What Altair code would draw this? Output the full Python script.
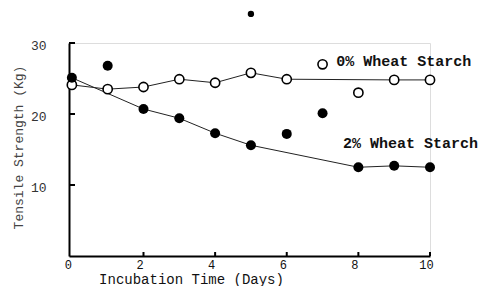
import altair as alt
import pandas as pd

days = [0, 1, 2, 3, 4, 5, 6, 7, 8, 9, 10]
open_vals = [24.1, 23.5, 23.8, 24.9, 24.4, 25.8, 24.9, 27.0, 23.0, 24.8, 24.8]
filled_vals = [25.1, 26.8, 20.7, 19.4, 17.3, 15.6, 17.2, 20.1, 12.5, 12.7, 12.5]
open_on_line = [True, True, True, True, True, True, True, False, False, True, True]
filled_on_line = [True, False, True, True, True, True, False, False, True, True, True]
stray_day = [5]
stray_val = [34.1]
label_text = ["0% Wheat Starch", "2% Wheat Starch"]
label_day = [7.38, 7.57]
label_val = [27.5, 15.9]
y_ticks = [10, 20, 30]
x_ticks = [2, 4, 6, 8, 10]

FONT = "Liberation Mono, DejaVu Sans Mono, Courier New, monospace"

df_open = pd.DataFrame({"day": days, "val": open_vals, "fit": open_on_line})
df_fill = pd.DataFrame({"day": days, "val": filled_vals, "fit": filled_on_line})
df_stray = pd.DataFrame({"day": stray_day, "val": stray_val})
df_lab = pd.DataFrame({"day": label_day, "val": label_val, "t": label_text})
df_yt = pd.DataFrame({"v": y_ticks})
df_xt = pd.DataFrame({"d": x_ticks})

xs = alt.Scale(domain=[-0.08, 10], nice=False, zero=False)
ys = alt.Scale(domain=[0, 30], nice=False, zero=False)

x_axis = alt.Axis(values=[0, 2, 4, 6, 8, 10], ticks=False, grid=False,
                  domainColor="black", domainWidth=2,
                  labelFont=FONT, labelFontSize=12, labelColor="#111",
                  labelPadding=3, labelOffset=-4, labelFlush=False,
                  title="Incubation Time (Days)", titleFont=FONT,
                  titleFontSize=14, titleFontWeight="normal", titleColor="#111",
                  titleX=122, titleY=23, titleBaseline="middle", titleAlign="center")
y_axis = alt.Axis(values=[10, 20, 30], ticks=False, grid=False,
                  domainColor="black", domainWidth=2,
                  labelFont=FONT, labelFontSize=13, labelColor="#333",
                  labelPadding=23, labelBaseline="middle", labelOffset=2,
                  labelFlush=False,
                  title="Tensile Strength (Kg)", titleFont=FONT,
                  titleFontSize=13, titleFontWeight="normal", titleColor="#444",
                  titleX=-51, titleY=104, titleAngle=270,
                  titleBaseline="middle", titleAlign="center")

base_x = alt.X("day:Q", scale=xs, axis=x_axis)
base_y = alt.Y("val:Q", scale=ys, axis=y_axis)

line_open = alt.Chart(df_open).transform_filter("datum.fit").mark_line(
    color="#222", strokeWidth=1).encode(x=base_x, y=base_y)
line_fill = alt.Chart(df_fill).transform_filter("datum.fit").mark_line(
    color="#222", strokeWidth=1).encode(x=base_x, y=base_y)

pts_open = alt.Chart(df_open).mark_point(
    shape="circle", filled=True, fill="white", stroke="black",
    strokeWidth=1.6, size=85, opacity=1).encode(x=base_x, y=base_y)
pts_fill = alt.Chart(df_fill).mark_point(
    shape="circle", filled=True, color="black", size=100, opacity=1
).encode(x=base_x, y=base_y)
pts_stray = alt.Chart(df_stray).mark_point(
    shape="circle", filled=True, color="black", size=40, opacity=1
).encode(x=base_x, y=base_y)

labels = alt.Chart(df_lab).mark_text(
    font=FONT, fontSize=15, fontWeight="bold", align="left",
    baseline="middle", color="#111").encode(x=base_x, y=base_y, text="t:N")

ytk = alt.Chart(df_yt).mark_rule(color="black", strokeWidth=2).encode(
    y=alt.Y("v:Q", scale=ys), x=alt.value(0), x2=alt.value(6))
xtk = alt.Chart(df_xt).mark_rule(color="black", strokeWidth=2).encode(
    x=alt.X("d:Q", scale=xs), y=alt.value(213), y2=alt.value(209))

chart = alt.layer(line_open, line_fill, ytk, xtk, pts_open, pts_fill,
                  pts_stray, labels).properties(
    width=361, height=213,
    autosize=alt.AutoSizeParams(type="none"),
    padding={"left": 61, "top": 35, "right": 48, "bottom": 30},
).configure_view(stroke=None).configure(background="white")

chart.save("out.html", embed_options={"renderer": "svg", "actions": False})
